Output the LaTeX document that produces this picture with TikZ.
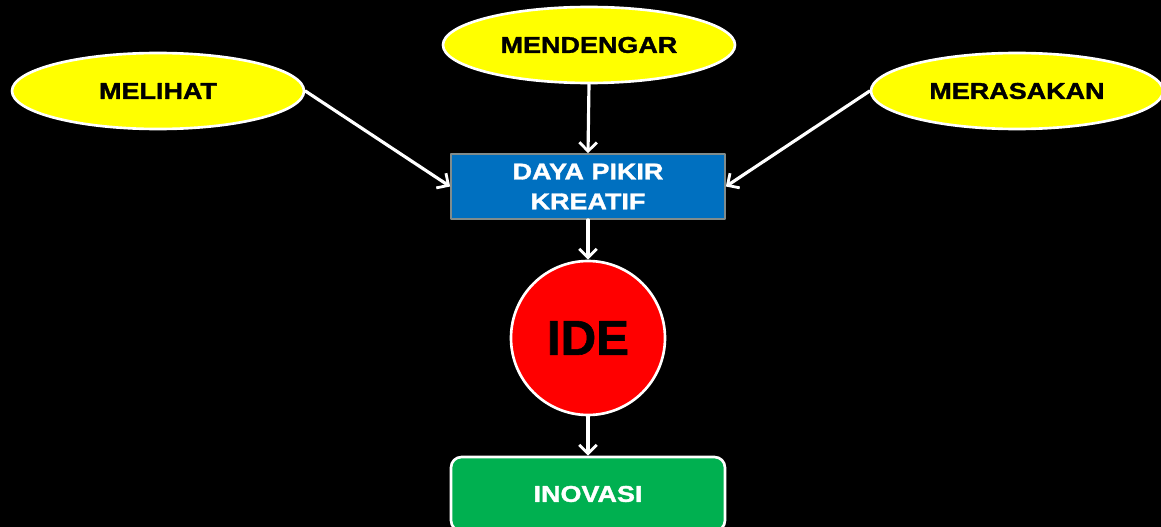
\documentclass[tikz,border=0pt]{standalone}
\usepackage{fontspec}
\setmainfont{Liberation Sans}[BoldFeatures={FakeBold=1.2}]
\newfontfamily\lebar[FakeStretch=1.18,BoldFeatures={FakeBold=1.5}]{Liberation Sans}
\usetikzlibrary{shapes.geometric,arrows.meta}
\definecolor{kuning}{RGB}{255,255,0}
\definecolor{biru}{RGB}{0,112,192}
\definecolor{merah}{RGB}{255,0,0}
\definecolor{hijau}{RGB}{0,176,80}
\definecolor{abu}{RGB}{128,140,140}
\tikzset{
    indera/.style={ellipse, draw=white, line width=1.5pt, fill=kuning, minimum width=292*0.02cm, minimum height=76*0.02cm, inner sep=0pt, font=\lebar\bfseries\fontsize{13}{15}\selectfont, text=black},
    panah/.style={draw=white, line width=1.8pt, -{Straight Barb[length=5pt,width=10pt,line width=1.6pt]}}
}
\begin{document}
\begin{tikzpicture}[line cap=round, line join=round, x=0.02cm, y=-0.02cm]

        \fill[black] (0,0) rectangle (1161,527);
        \useasboundingbox (0,0) rectangle (1161,527);

        \node[indera] (melihat) at (158,91) {MELIHAT};
        \node[indera] (mendengar) at (589,45) {MENDENGAR};
        \node[indera] (merasakan) at (1017,91) {MERASAKAN};

        \node[draw=abu, line width=1pt, fill=biru, minimum width=274*0.02cm, minimum height=65*0.02cm, inner sep=0pt, align=center, text=white, font=\lebar\bfseries\fontsize{13}{17}\selectfont] (daya) at (588,186.5) {DAYA PIKIR\\KREATIF};

        \node[circle, draw=white, line width=1.5pt, fill=merah, minimum size=154*0.02cm, inner sep=0pt, font=\bfseries\fontsize{28}{30}\selectfont, text=black] (ide) at (588,338) {IDE};

        \node[draw=white, line width=1.5pt, rounded corners=6pt, fill=hijau, minimum width=274*0.02cm, minimum height=74*0.02cm, inner sep=0pt, text=white, font=\lebar\bfseries\fontsize{13}{16}\selectfont] (inovasi) at (588,494) {INOVASI};

        \draw[panah] (melihat.east) -- (daya.west);
        \draw[panah] (merasakan.west) -- (daya.east);
        \draw[panah] (mendengar.south) -- (daya.north);
        \draw[panah] (daya.south) -- (ide.north);
        \draw[panah] (ide.south) -- (inovasi.north);

    \end{tikzpicture}
\end{document}
